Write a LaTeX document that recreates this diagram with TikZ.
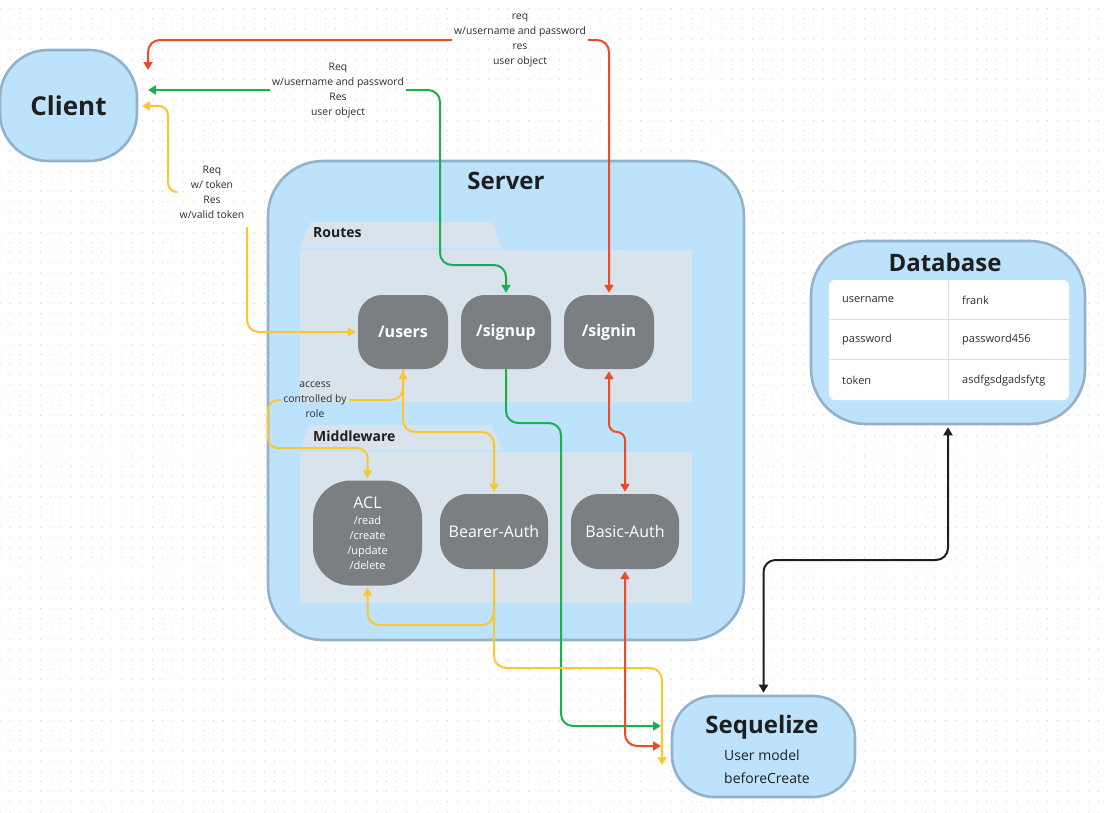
\documentclass[tikz,border=0pt]{standalone}
\usepackage{fontspec}
\setmainfont{Open Sans}
\usetikzlibrary{arrows.meta,patterns}
\definecolor{boxfill}{HTML}{BDE3FC}
\definecolor{boxedge}{HTML}{93B1C8}
\definecolor{foldc}{HTML}{D8E3EC}
\definecolor{nodegray}{HTML}{7C7F82}
\definecolor{redc}{HTML}{F04A24}
\definecolor{grnc}{HTML}{1CAF50}
\definecolor{yelc}{HTML}{FCC72E}
\definecolor{blkc}{HTML}{1E1E1E}
\definecolor{labelc}{HTML}{2E2E2E}
\definecolor{dotc}{HTML}{C9C9C9}
\definecolor{gridline}{HTML}{DEDEDE}
\pgfdeclarepatternformonly{griddots}{\pgfqpoint{-1pt}{-1pt}}{\pgfqpoint{1pt}{1pt}}{\pgfqpoint{10.17pt}{10.17pt}}{\pgfpathcircle{\pgfqpoint{0pt}{0pt}}{0.6pt}\pgfusepath{fill}}
\tikzset{
  tipp/.tip={Triangle[width=9pt,length=8pt]},
  bluebox/.style={draw=boxedge, line width=2.6pt, fill=boxfill, rounded corners=#1},
  route/.style={fill=nodegray, text=white, rounded corners=24pt, minimum width=90pt, minimum height=74pt, inner sep=0pt, font=\bfseries\fontsize{16}{19}\selectfont},
  mware/.style={fill=nodegray, text=white, rounded corners=28pt, minimum width=108pt, minimum height=75pt, inner sep=0pt, font=\fontsize{16}{19}\selectfont},
  conn/.style={line width=2pt, rounded corners=12pt},
  lbl/.style={align=center, font=\fontsize{10.4}{15}\selectfont, text=labelc, inner sep=2pt},
  cell/.style={anchor=west, font=\fontsize{11}{13}\selectfont, text=labelc, inner sep=0pt},
  title/.style={font=\bfseries\fontsize{24}{28}\selectfont, text=blkc, inner sep=0pt},
  foldtitle/.style={anchor=west, font=\bfseries\fontsize{14}{16}\selectfont, text=blkc, inner sep=0pt},
}
\begin{document}
\begin{tikzpicture}[x=1pt,y=-1pt]
\useasboundingbox (0,0) rectangle (1105,812);
\fill[white] (0,0) rectangle (1105,812);
\fill[pattern=griddots, pattern color=dotc] (0,0) rectangle (1105,812);

% main boxes
\node[bluebox=48pt, minimum width=137pt, minimum height=111pt, inner sep=0pt, font=\bfseries\fontsize{26}{30}\selectfont, text=blkc] (client) at (68.5,105.5) {Client};
\node[bluebox=55pt, minimum width=476pt, minimum height=479pt] (server) at (506,400.5) {};
\node[title] (servertitle) at (506,181) {Server};

% folders
\fill[foldc] (310,222) -- (492,222) -- (502,248) -- (300,248) -- cycle;
\fill[foldc] (300,250) rectangle (692,402);
\node[foldtitle] (routestitle) at (313,233) {Routes};
\fill[foldc] (310,425) -- (492,425) -- (502,450) -- (300,450) -- cycle;
\fill[foldc] (300,452) rectangle (692,603);
\node[foldtitle] (mwtitle) at (313,436) {Middleware};

% route nodes
\node[route] (users) at (403,332) {/users};
\node[route] (signup) at (506,332) {/signup};
\node[route] (signin) at (609,332) {/signin};

% middleware nodes
\node[fill=nodegray, text=white, rounded corners=38pt, minimum width=109pt, minimum height=105pt, inner sep=0pt, align=center, font=\fontsize{11}{15}\selectfont] (acl) at (367.5,533) {{\fontsize{16}{18}\selectfont ACL}\\[1pt]/read\\/create\\/update\\/delete};
\node[mware] (bearer) at (494,531.5) {Bearer-Auth};
\node[mware] (basic) at (625,531.5) {Basic-Auth};

% database
\node[bluebox=55pt, minimum width=274pt, minimum height=183pt] (db) at (948,332.5) {};
\node[title] (dbtitle) at (945,262) {Database};
\fill[white, rounded corners=6pt] (829,280) rectangle (1069,400);
\draw[gridline, line width=1pt] (829,319.5) -- (1069,319.5) (829,359.5) -- (1069,359.5) (948.5,280) -- (948.5,400);
\node[cell] (c11) at (842,300) {username};
\node[cell] (c12) at (962,300) {frank};
\node[cell] (c21) at (842,340) {password};
\node[cell] (c22) at (962,340) {password456};
\node[cell] (c31) at (842,380.5) {token};
\node[cell] (c32) at (962,380.5) {asdfgsdgadsfytg};

% sequelize
\node[bluebox=42pt, minimum width=183pt, minimum height=101pt] (seq) at (763.5,746.5) {};
\node[title] (seqtitle) at (762,727) {Sequelize};
\node[anchor=west, align=left, inner sep=0pt, font=\fontsize{14}{23}\selectfont, text=blkc] (seqsub) at (724,766.5) {User model\\beforeCreate};

% labels (no fill; connectors break around them)
\node[lbl] (lred) at (520,40) {req\\w/username and password\\res\\user object};
\node[lbl] (lgrn) at (338,91) {Req\\w/username and password\\Res\\user object};
\node[lbl] (lyel) at (212,192) {Req\\w/ token\\Res\\w/valid token};
\node[lbl] (lacc) at (315,400) {access\\controlled by\\role};

% free ends
\coordinate (redend) at (148,70);
\coordinate (grnend) at (148,90);
\coordinate (yelend) at (142,106);
\coordinate (seqg) at (661,726);
\coordinate (seqr) at (661,746);
\coordinate (seqy) at (662,765);

% connectors
\draw[conn, redc, tipp-] (redend) -- (148,40) -- (lred.west |- 0,40);
\draw[conn, redc, -tipp, shorten >=2pt] (lred.east |- 0,40) -- (609,40) -- (signin.north);
\draw[conn, grnc, tipp-] (grnend) -- (lgrn.west |- 0,90);
\draw[conn, grnc, -tipp, shorten >=2pt] (lgrn.east |- 0,90) -- (440,90) -- (440,265) -- (506,265) -- (signup.north);
\draw[conn, grnc, -tipp] (signup.south) -- (506,423) -- (561,423) -- (561,726) -- (seqg);
\draw[conn, redc, rounded corners=8pt, tipp-tipp, shorten >=2pt, shorten <=2pt] (signin.south) -- (609,432) -- (625,432) -- (basic.north);
\draw[conn, yelc, -tipp] (bearer.south) -- (494,668) -- (662,668) -- (seqy);
\draw[conn, redc, tipp-tipp, shorten <=2pt] (basic.south) -- (625,746) -- (seqr);
\draw[conn, yelc, tipp-, rounded corners=9pt] (yelend) -- (168,106) -- (168,192) -- (lyel.west |- 0,192);
\draw[conn, yelc, -tipp, shorten >=2pt] (247,227) -- (247,332) -- (users.west);
\draw[conn, yelc, tipp-, shorten <=2pt] (users.south) -- (403,400) -- (lacc.east |- 0,400);
\draw[conn, yelc, -tipp, shorten >=2pt, rounded corners=10pt] (lacc.west |- 0,400) -- (268,400) -- (268,448) -- (367.5,448) -- (acl.north);
\draw[conn, yelc, -tipp, shorten >=2pt] (users.south) -- (403,432) -- (494,432) -- (bearer.north);
\draw[conn, yelc, -tipp, shorten >=2pt] (bearer.south) -- (494,625) -- (367.5,625) -- (acl.south);
\draw[conn, blkc, tipp-tipp, shorten <=2pt, shorten >=2pt] (db.south) -- (948,560) -- (763.5,560) -- (seq.north);
\end{tikzpicture}
\end{document}
